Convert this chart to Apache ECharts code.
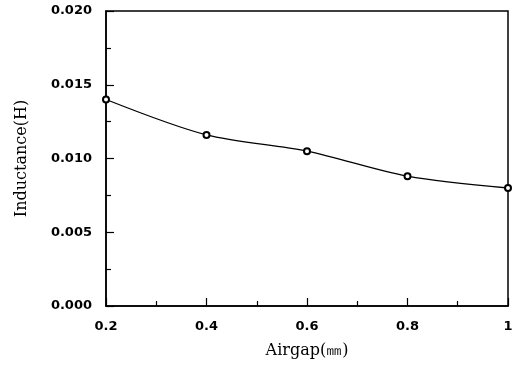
<!DOCTYPE html>
<html>
<head>
<meta charset="utf-8">
<script src="https://cdn.jsdelivr.net/npm/echarts@6/dist/echarts.min.js"></script>
<style>
  html, body { margin: 0; padding: 0; background: #fff; }
  #chart { width: 517px; height: 365px; }
</style>
</head>
<body>
<div id="chart"></div>
<script>
// airgap (mm) vs inductance (H)
const airgap = [0.2, 0.4, 0.6, 0.8, 1.0];
const inductance = [0.0140, 0.0116, 0.0105, 0.0088, 0.0080];

const chart = echarts.init(document.getElementById('chart'));

const tickLabel = { color: '#000', fontFamily: 'DejaVu Sans', fontWeight: 'bold', fontSize: 13 };
const nameStyle = { color: '#000', fontFamily: 'DejaVu Serif', fontSize: 16 };

chart.setOption({
  animation: false,
  backgroundColor: '#fff',
  grid: { left: 106, right: 9, top: 11, bottom: 59, show: true, borderColor: '#000', borderWidth: 1.5 },
  xAxis: {
    type: 'value', min: 0.2, max: 1, interval: 0.2,
    name: 'Airgap(㎜)', nameLocation: 'middle', nameGap: 37, nameTextStyle: nameStyle,
    axisLine: { lineStyle: { color: '#000', width: 1.5 } },
    axisTick: { inside: true, length: 8, lineStyle: { color: '#000', width: 1.2 } },
    minorTick: { show: true, splitNumber: 2, length: 5, lineStyle: { color: '#000', width: 1.2 } },
    splitLine: { show: false },
    axisLabel: Object.assign({ margin: 14, formatter: v => (v === 1 ? '1' : v.toFixed(1)) }, tickLabel)
  },
  yAxis: {
    type: 'value', min: 0, max: 0.02, interval: 0.005,
    name: 'Inductance(H)', nameLocation: 'middle', nameGap: 76, nameTextStyle: nameStyle,
    axisLine: { show: true, lineStyle: { color: '#000', width: 1.5 } },
    axisTick: { show: true, inside: true, length: 8, lineStyle: { color: '#000', width: 1.2 } },
    minorTick: { show: true, splitNumber: 2, length: 5, lineStyle: { color: '#000', width: 1.2 } },
    splitLine: { show: false },
    axisLabel: Object.assign({ margin: 14, formatter: v => v.toFixed(3) }, tickLabel)
  },
  series: [{
    type: 'line',
    data: airgap.map((x, i) => [x, inductance[i]]),
    smooth: 0.3,
    symbol: 'emptyCircle',
    symbolSize: 6,
    lineStyle: { color: '#000', width: 1.3 },
    itemStyle: { color: '#000', borderColor: '#000', borderWidth: 1 }
  }]
});
</script>
</body>
</html>
